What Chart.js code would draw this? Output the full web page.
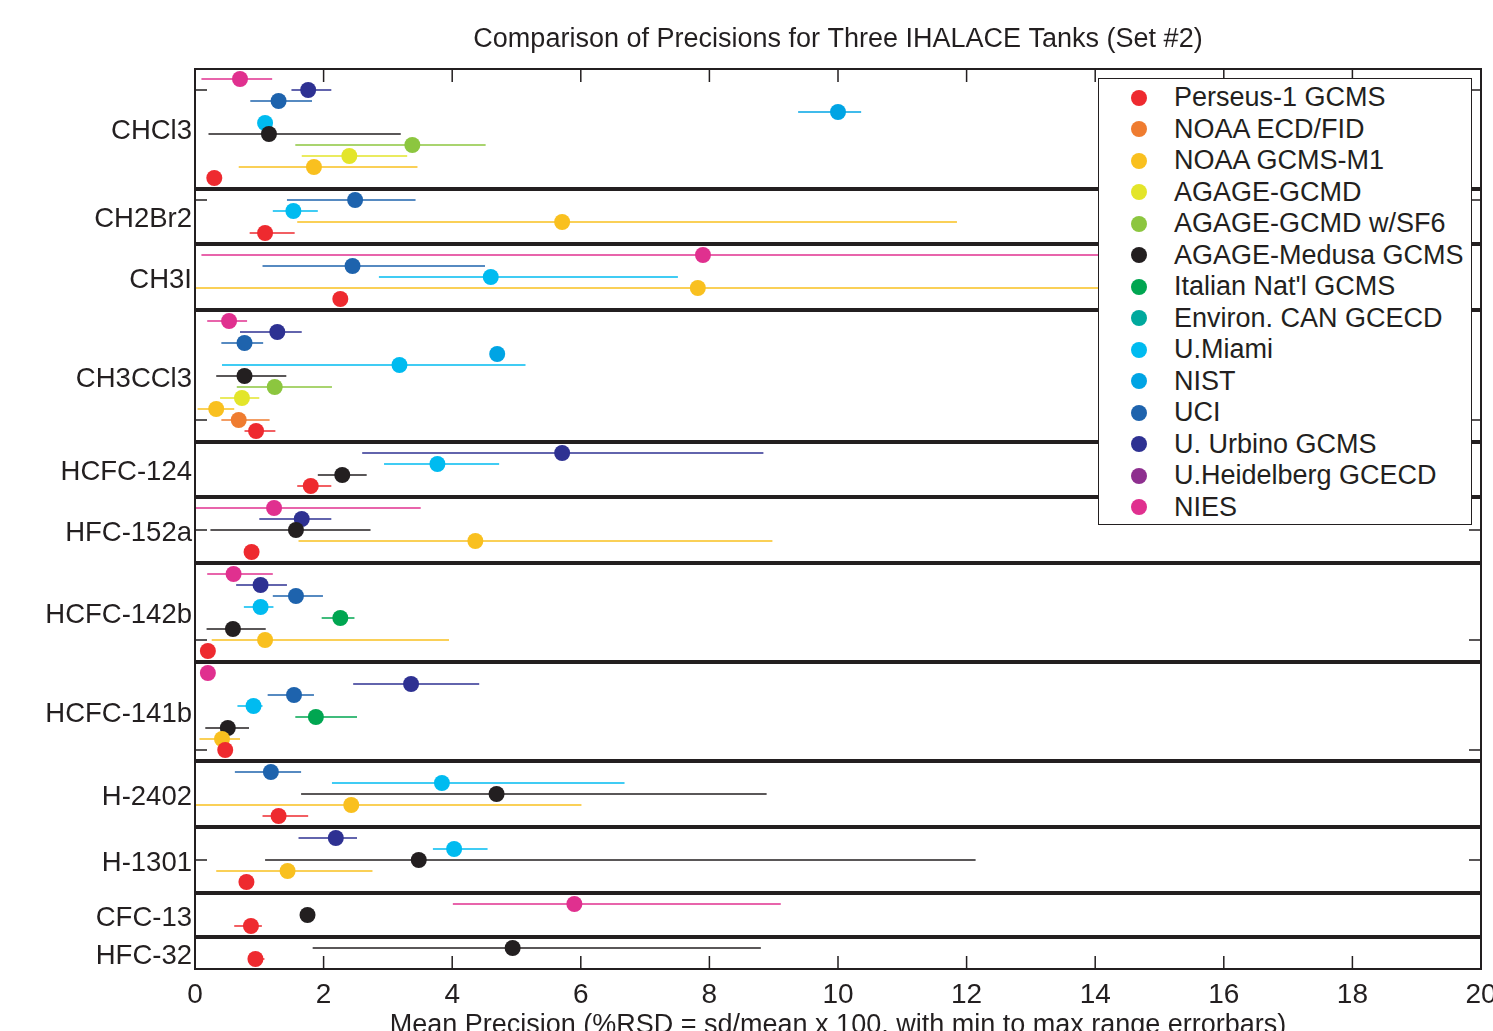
<!DOCTYPE html>
<html>
<head>
<meta charset="utf-8">
<script src="https://cdn.jsdelivr.net/npm/chart.js@4/dist/chart.umd.min.js"></script>
<style>
  body { margin: 0; overflow: hidden; background: #fff; }
  #wrap { position: relative; width: 1520px; height: 1045px; }
  #legend {
    position: absolute; left: 1098px; top: 78px; width: 374px; height: 447px;
    border: 1.5px solid #231f20; background: #fff; box-sizing: border-box;
    padding-top: 3px;
    font-family: "Liberation Sans", Arial, Helvetica, sans-serif; font-size: 27px; color: #231f20;
  }
  #legend .row { position: relative; height: 31.5px; line-height: 31.5px; }
  #legend .dot { position: absolute; left: 32px; top: 7.75px; width: 16px; height: 16px; border-radius: 50%; }
  #legend .txt { position: absolute; left: 75px; top: 0; white-space: nowrap; }
</style>
</head>
<body>
<div id="wrap">
  <canvas id="grafico"></canvas>
  <div id="legend"></div>
</div>
<script>
/* Datos: precisión media (%RSD) con rango min-max */

// laboratorios (orden de la leyenda)
const labKeys = ["P1", "ECD", "M1", "GCMD", "SF6", "MED", "ITA", "CAN", "MIA", "NIST", "UCI", "URB", "HEI", "NIES"];
const labNames = ["Perseus-1 GCMS", "NOAA ECD/FID", "NOAA GCMS-M1", "AGAGE-GCMD", "AGAGE-GCMD w/SF6",
  "AGAGE-Medusa GCMS", "Italian Nat'l GCMS", "Environ. CAN GCECD", "U.Miami", "NIST", "UCI",
  "U. Urbino GCMS", "U.Heidelberg GCECD", "NIES"];
const labColors = ["#ee2a2f", "#ef7c30", "#f9c01f", "#e3e52a", "#8cc63f", "#231f20", "#00a651",
  "#00a99d", "#00bbf0", "#00a4e4", "#1e63ad", "#2e3192", "#8e2f8f", "#e0308f"];

const compounds = ["CHCl3", "CH2Br2", "CH3I", "CH3CCl3", "HCFC-124", "HFC-152a",
  "HCFC-142b", "HCFC-141b", "H-2402", "H-1301", "CFC-13", "HFC-32"];

// [lab, media, min, max]  (de arriba hacia abajo)
const chcl3 = [
  ["NIES", 0.70, 0.10, 1.20],
  ["URB", 1.76, 1.50, 2.12],
  ["UCI", 1.30, 0.86, 1.82],
  ["NIST", 10.00, 9.38, 10.36],
  ["MIA", 1.09, 1.05, 1.13],
  ["MED", 1.15, 0.21, 3.20],
  ["SF6", 3.38, 1.56, 4.52],
  ["GCMD", 2.40, 1.66, 3.30],
  ["M1", 1.85, 0.68, 3.46],
  ["P1", 0.30, 0.28, 0.32]
];
const ch2br2 = [
  ["UCI", 2.49, 1.43, 3.43],
  ["MIA", 1.53, 1.21, 1.91],
  ["M1", 5.71, 1.59, 11.85],
  ["P1", 1.09, 0.85, 1.55]
];
const ch3i = [
  ["NIES", 7.90, 0.10, 16.5],
  ["UCI", 2.45, 1.05, 4.51],
  ["MIA", 4.60, 2.86, 7.51],
  ["M1", 7.82, 0.00, 15.5],
  ["P1", 2.26, 2.24, 2.28]
];
const ch3ccl3 = [
  ["NIES", 0.53, 0.19, 0.81],
  ["URB", 1.28, 0.70, 1.66],
  ["UCI", 0.77, 0.41, 1.06],
  ["NIST", 4.70, 4.68, 4.72],
  ["MIA", 3.18, 0.42, 5.14],
  ["MED", 0.77, 0.33, 1.42],
  ["SF6", 1.24, 0.65, 2.13],
  ["GCMD", 0.73, 0.39, 1.00],
  ["M1", 0.33, 0.04, 0.61],
  ["ECD", 0.68, 0.41, 1.16],
  ["P1", 0.95, 0.77, 1.25]
];
const hcfc124 = [
  ["URB", 5.71, 2.60, 8.84],
  ["MIA", 3.77, 2.94, 4.73],
  ["MED", 2.29, 1.91, 2.67],
  ["P1", 1.80, 1.59, 2.12]
];
const hfc152a = [
  ["NIES", 1.23, 0.00, 3.51],
  ["URB", 1.66, 1.00, 2.12],
  ["MED", 1.57, 0.24, 2.73],
  ["M1", 4.36, 1.61, 8.98],
  ["P1", 0.88, 0.86, 0.90]
];
const hcfc142b = [
  ["NIES", 0.60, 0.19, 1.21],
  ["URB", 1.02, 0.64, 1.43],
  ["UCI", 1.57, 1.21, 1.99],
  ["MIA", 1.02, 0.76, 1.22],
  ["ITA", 2.26, 1.97, 2.48],
  ["MED", 0.59, 0.18, 1.10],
  ["M1", 1.09, 0.26, 3.95],
  ["P1", 0.20, 0.18, 0.22]
];
const hcfc141b = [
  ["NIES", 0.20, 0.18, 0.22],
  ["URB", 3.36, 2.46, 4.42],
  ["UCI", 1.54, 1.13, 1.85],
  ["MIA", 0.91, 0.66, 1.05],
  ["ITA", 1.88, 1.56, 2.52],
  ["MED", 0.51, 0.16, 0.84],
  ["M1", 0.42, 0.07, 0.70],
  ["P1", 0.47, 0.45, 0.49]
];
const h2402 = [
  ["UCI", 1.18, 0.62, 1.65],
  ["MIA", 3.84, 2.13, 6.68],
  ["MED", 4.69, 1.65, 8.89],
  ["M1", 2.43, 0.00, 6.01],
  ["P1", 1.30, 1.05, 1.76]
];
const h1301 = [
  ["URB", 2.19, 1.61, 2.52],
  ["MIA", 4.03, 3.70, 4.55],
  ["MED", 3.48, 1.09, 12.14],
  ["M1", 1.44, 0.33, 2.76],
  ["P1", 0.80, 0.78, 0.82]
];
const cfc13 = [
  ["NIES", 5.90, 4.01, 9.11],
  ["MED", 1.75, 1.72, 1.80],
  ["P1", 0.87, 0.61, 1.04]
];
const hfc32 = [
  ["MED", 4.94, 1.83, 8.80],
  ["P1", 0.94, 0.90, 1.08]
];

const groups = [chcl3, ch2br2, ch3i, ch3ccl3, hcfc124, hfc152a, hcfc142b, hcfc141b, h2402, h1301, cfc13, hfc32];

const xTicks = [0, 2, 4, 6, 8, 10, 12, 14, 16, 18, 20];
const yTickMarks = [1, 11, 21, 31, 41, 51, 61, 71];

// Armando los datasets: una fila por medición, un separador entre compuestos
let labData = labKeys.map(() => []);
let labelPos = [];
let separators = [];
let slot = 0;
groups.forEach((g, gi) => {
  labelPos.push(slot + (g.length - 1) / 2);
  g.forEach(r => {
    labData[labKeys.indexOf(r[0])].push({ x: r[1], y: slot, lo: r[2], hi: r[3] });
    slot++;
  });
  if (gi < groups.length - 1) {
    separators.push(slot);
    slot++;
  }
});

const TXT = "#231f20";
const FONT = "'Liberation Sans', Arial, Helvetica, sans-serif";

let datasets = [];
labKeys.forEach((k, i) => {
  datasets.push({
    label: labNames[i],
    data: labData[i],
    backgroundColor: labColors[i],
    borderColor: labColors[i],
    pointRadius: 8,
    pointBorderWidth: 0,
    pointHoverRadius: 8,
    showLine: false,
    order: 1
  });
});
separators.forEach(s => {
  datasets.push({
    label: "sep",
    data: [{ x: 0, y: s }, { x: 20, y: s }],
    borderColor: TXT,
    borderWidth: 4,
    pointRadius: 0,
    showLine: true,
    isSeparator: true,
    order: 2
  });
});

// barras de error (min a max)
const errorBars = {
  id: "errorBars",
  beforeDatasetsDraw(chart) {
    const ctx = chart.ctx;
    const xs = chart.scales.x;
    const ys = chart.scales.y;
    ctx.save();
    ctx.beginPath();
    ctx.rect(chart.chartArea.left, chart.chartArea.top, chart.chartArea.width, chart.chartArea.height);
    ctx.clip();
    chart.data.datasets.forEach(ds => {
      if (ds.isSeparator) return;
      ctx.strokeStyle = ds.borderColor;
      ctx.lineWidth = 1.5;
      ds.data.forEach(p => {
        const y = ys.getPixelForValue(p.y);
        ctx.beginPath();
        ctx.moveTo(xs.getPixelForValue(p.lo), y);
        ctx.lineTo(xs.getPixelForValue(p.hi), y);
        ctx.stroke();
      });
    });
    ctx.restore();
  }
};

// marco y marcas de graduación hacia adentro
const frame = {
  id: "frame",
  afterDatasetsDraw(chart) {
    const ctx = chart.ctx;
    const a = chart.chartArea;
    const xs = chart.scales.x;
    const ys = chart.scales.y;
    ctx.save();
    ctx.strokeStyle = TXT;
    ctx.lineWidth = 2;
    ctx.strokeRect(a.left, a.top, a.width, a.height);
    ctx.lineWidth = 1.5;
    xTicks.forEach(v => {
      const x = xs.getPixelForValue(v);
      ctx.beginPath();
      ctx.moveTo(x, a.top); ctx.lineTo(x, a.top + 13);
      ctx.moveTo(x, a.bottom); ctx.lineTo(x, a.bottom - 13);
      ctx.stroke();
    });
    yTickMarks.forEach(v => {
      const y = ys.getPixelForValue(v);
      ctx.beginPath();
      ctx.moveTo(a.left, y); ctx.lineTo(a.left + 12, y);
      ctx.moveTo(a.right, y); ctx.lineTo(a.right - 12, y);
      ctx.stroke();
    });
    ctx.restore();
  }
};

// eslint-disable-next-line no-undef
new Chart(document.getElementById("grafico"), {
  type: "scatter",
  data: { datasets: datasets },
  options: {
    responsive: true,
    maintainAspectRatio: false,
    animation: false,
    layout: { padding: { left: 0, right: 39, top: 0, bottom: 0 } },
    plugins: {
      legend: { display: false },
      tooltip: { enabled: false },
      title: {
        display: true,
        fullSize: false,
        text: "Comparison of Precisions for Three IHALACE Tanks (Set #2)",
        color: TXT,
        font: { family: FONT, size: 27, weight: "normal" },
        padding: { top: 23, bottom: 13.6 }
      }
    },
    scales: {
      x: {
        type: "linear",
        min: 0,
        max: 20,
        afterBuildTicks: s => { s.ticks = xTicks.map(v => ({ value: v })); },
        afterFit: s => { s.height = 76; },
        grid: { display: false, drawTicks: false },
        border: { display: false },
        ticks: { color: TXT, font: { family: FONT, size: 28 }, padding: 9, maxRotation: 0 },
        title: {
          display: true,
          text: "Mean Precision (%RSD = sd/mean x 100, with min to max range errorbars)",
          color: TXT,
          font: { family: FONT, size: 27 },
          padding: { top: 0, bottom: 3 }
        }
      },
      y: {
        type: "linear",
        reverse: true,
        min: -0.91,
        max: 80.91,
        afterBuildTicks: s => { s.ticks = labelPos.map(v => ({ value: v })); },
        afterFit: s => { s.width = 195; },
        grid: { display: false, drawTicks: false },
        border: { display: false },
        ticks: {
          color: TXT,
          font: { family: FONT, size: 27.5 },
          padding: 3,
          labelOffset: 3,
          callback: v => compounds[labelPos.indexOf(v)]
        }
      }
    }
  },
  plugins: [errorBars, frame]
});

// Leyenda en HTML (sobre el gráfico)
const legendBox = document.getElementById("legend");
labNames.forEach((n, i) => {
  const row = document.createElement("div");
  row.className = "row";
  row.innerHTML = '<span class="dot" style="background:' + labColors[i] + '"></span><span class="txt"></span>';
  row.querySelector(".txt").textContent = n;
  legendBox.appendChild(row);
});
</script>
</body>
</html>
